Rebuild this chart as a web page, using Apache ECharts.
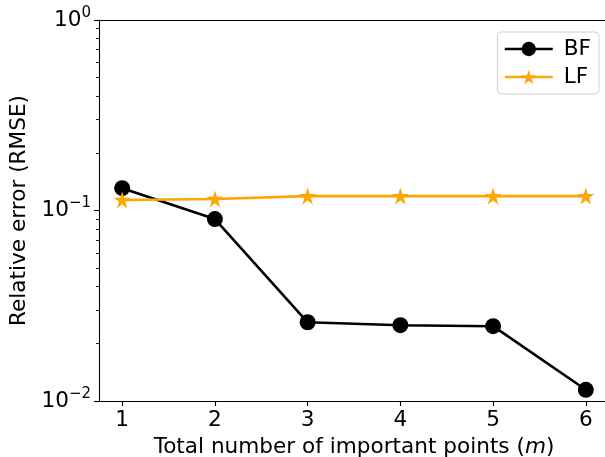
<!DOCTYPE html>
<html><head><meta charset="utf-8">
<script src="https://cdn.jsdelivr.net/npm/echarts@6/dist/echarts.min.js"></script>
<style>html,body{margin:0;padding:0;background:#fff}#c{width:605px;height:457px}</style>
</head><body><div id="c"></div>
<script>
const xValues = [1, 2, 3, 4, 5, 6];
const bfValues = [0.131, 0.0902, 0.0259, 0.0250, 0.0247, 0.01145];
const lfValues = [0.1136, 0.115, 0.119, 0.119, 0.119, 0.119];
const yMajorTicks = [0.01, 0.1, 1];
const yMinorTicks = [0.02,0.03,0.04,0.05,0.06,0.07,0.08,0.09,0.2,0.3,0.4,0.5,0.6,0.7,0.8,0.9];
const xTickLabels = [1, 2, 3, 4, 5, 6];

const FONT = 'DejaVu Sans';
const FS = 21.6;
const chart = echarts.init(document.getElementById('c'), null, {renderer: 'canvas'});
chart.setOption({
  animation: false,
  textStyle: {fontFamily: FONT},
  grid: {left: 99, top: 20, right: -4, bottom: 56, containLabel: false, outerBoundsMode: 'none'},
  xAxis: [{
    type: 'value', min: 0.75, max: 6.25,
    axisLine: {show: true, lineStyle: {color: '#000', width: 1.1}},
    axisTick: {show: true, customValues: xTickLabels, length: 5, lineStyle: {color: '#000', width: 1.1}},
    axisLabel: {customValues: xTickLabels, color: '#000', fontSize: FS, fontFamily: FONT, margin: 8},
    splitLine: {show: false},
    name: 'Total number of important points ({i|m})',
    nameLocation: 'middle', nameGap: 35,
    nameTextStyle: {color: '#000', fontSize: FS, fontFamily: FONT,
      rich: {i: {fontStyle: 'italic', fontSize: FS, fontFamily: FONT, color: '#000'}}}
  }, {
    type: 'value', min: 0.75, max: 6.25, position: 'top',
    axisLine: {show: true, onZero: false, lineStyle: {color: '#000', width: 1.1}},
    axisTick: {show: false}, axisLabel: {show: false}, splitLine: {show: false}
  }],
  yAxis: [{
    type: 'log', logBase: 10, min: 0.01, max: 1,
    axisLine: {show: true, lineStyle: {color: '#000', width: 1.1}},
    axisTick: {show: true, customValues: yMajorTicks, length: 5, lineStyle: {color: '#000', width: 1.1}},
    axisLabel: {
      customValues: yMajorTicks, color: '#000', margin: 8,
      formatter: function (v) {
        const e = Math.round(Math.log10(v));
        return '{b|10}{s|' + (e < 0 ? '\u2212' + (-e) : e) + '}';
      },
      rich: {
        b: {fontSize: FS, fontFamily: FONT, color: '#000'},
        s: {fontSize: 15, fontFamily: FONT, color: '#000', verticalAlign: 'top', padding: [0, 0, 14, 0]}
      }
    },
    splitLine: {show: false},
    name: 'Relative error (RMSE)', nameLocation: 'middle', nameGap: 68,
    nameTextStyle: {color: '#000', fontSize: FS, fontFamily: FONT}
  }, {
    type: 'log', logBase: 10, min: 0.01, max: 1,
    axisLine: {show: false},
    axisTick: {show: true, customValues: yMinorTicks, length: 3, lineStyle: {color: '#000', width: 0.9}},
    axisLabel: {show: false}, splitLine: {show: false}, position: 'left'
  }],
  legend: {
    right: 6, top: 32, orient: 'vertical',
    itemWidth: 48, itemHeight: 18, itemGap: 6,
    padding: [6, 8, 6, 6],
    borderColor: '#d0d0d0', borderWidth: 1, borderRadius: 4,
    backgroundColor: '#fff',
    lineStyle: {width: 2.6},
    textStyle: {color: '#000', fontSize: FS, fontFamily: FONT, padding: [0, 0, 0, 6]},
    data: ['BF', 'LF']
  },
  series: [{
    name: 'BF', type: 'line',
    data: xValues.map((x, i) => [x, bfValues[i]]),
    symbol: 'circle', symbolSize: 16,
    lineStyle: {color: '#000', width: 2.6},
    itemStyle: {color: '#000'}
  }, {
    name: 'LF', type: 'line',
    data: xValues.map((x, i) => [x, lfValues[i]]),
    symbol: 'path://M50,0 L61.8,35.5 L100,35.5 L69.1,57.6 L80.9,95 L50,72 L19.1,95 L30.9,57.6 L0,35.5 L38.2,35.5 Z',
    symbolSize: 17,
    lineStyle: {color: '#FFA500', width: 2.6},
    itemStyle: {color: '#FFA500'}
  }]
});
</script></body></html>
